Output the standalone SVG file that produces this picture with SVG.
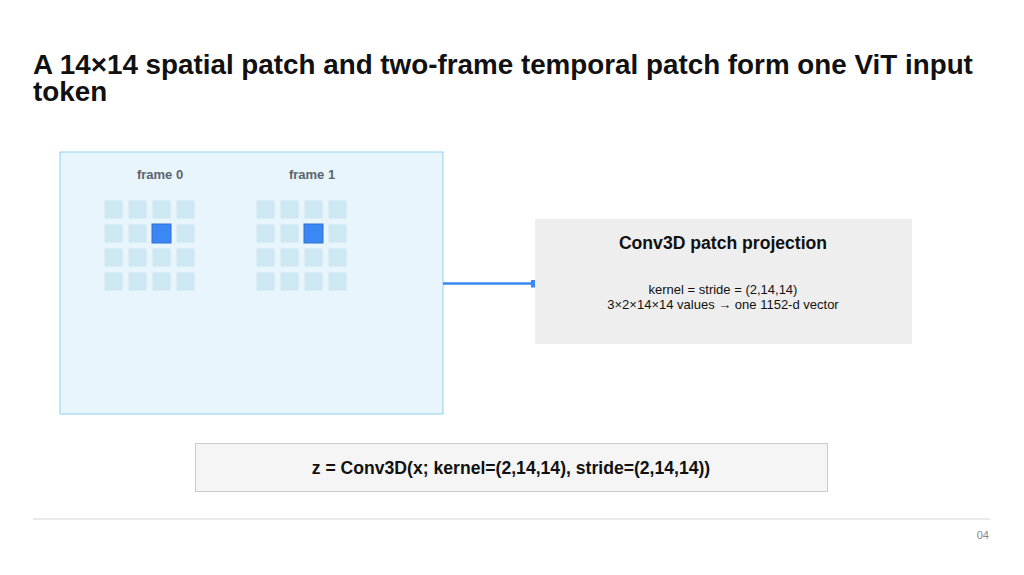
<svg xmlns="http://www.w3.org/2000/svg" width="1024" height="575" viewBox="0 0 1024 575">
<defs>
<style>
text{font-family:"Liberation Sans",Arial,sans-serif}
.title{font-size:27.8px;font-weight:bold;fill:#111}
.flabel{font-size:13px;font-weight:bold;fill:#5a6470;text-anchor:middle}
.cell{fill:#cde7f3;stroke:#e6f4fb;stroke-width:1}
.hot{fill:#3b87f5;stroke:#2f6fd0;stroke-width:1}
.h{font-size:17.6px;font-weight:bold;fill:#111;text-anchor:middle}
.b{font-size:13px;fill:#111;text-anchor:middle}
</style>
<marker id="end" markerWidth="4" markerHeight="8" refX="0" refY="4" orient="auto" markerUnits="userSpaceOnUse">
<rect x="0" y="0" width="4" height="8" fill="#3b87f5"/>
</marker>
</defs>
<rect width="1024" height="575" fill="#ffffff"/>
<text class="title" x="33" y="74">A 14×14 spatial patch and two-frame temporal patch form one ViT input</text>
<text class="title" x="33" y="101">token</text>

<g id="patch-input">
<rect x="60" y="152" width="383" height="262" fill="#e8f5fc" stroke="#90d2ea" stroke-width="1"/>
<text class="flabel" x="160" y="179">frame 0</text>
<text class="flabel" x="312" y="179">frame 1</text>
<g id="frame0">
<rect class="cell" x="104" y="200" width="19" height="19"/><rect class="cell" x="128" y="200" width="19" height="19"/><rect class="cell" x="152" y="200" width="19" height="19"/><rect class="cell" x="176" y="200" width="19" height="19"/>
<rect class="cell" x="104" y="224" width="19" height="19"/><rect class="cell" x="128" y="224" width="19" height="19"/><rect class="hot" x="152" y="224" width="19" height="19"/><rect class="cell" x="176" y="224" width="19" height="19"/>
<rect class="cell" x="104" y="248" width="19" height="19"/><rect class="cell" x="128" y="248" width="19" height="19"/><rect class="cell" x="152" y="248" width="19" height="19"/><rect class="cell" x="176" y="248" width="19" height="19"/>
<rect class="cell" x="104" y="272" width="19" height="19"/><rect class="cell" x="128" y="272" width="19" height="19"/><rect class="cell" x="152" y="272" width="19" height="19"/><rect class="cell" x="176" y="272" width="19" height="19"/>
</g>
<g id="frame1">
<rect class="cell" x="256" y="200" width="19" height="19"/><rect class="cell" x="280" y="200" width="19" height="19"/><rect class="cell" x="304" y="200" width="19" height="19"/><rect class="cell" x="328" y="200" width="19" height="19"/>
<rect class="cell" x="256" y="224" width="19" height="19"/><rect class="cell" x="280" y="224" width="19" height="19"/><rect class="hot" x="304" y="224" width="19" height="19"/><rect class="cell" x="328" y="224" width="19" height="19"/>
<rect class="cell" x="256" y="248" width="19" height="19"/><rect class="cell" x="280" y="248" width="19" height="19"/><rect class="cell" x="304" y="248" width="19" height="19"/><rect class="cell" x="328" y="248" width="19" height="19"/>
<rect class="cell" x="256" y="272" width="19" height="19"/><rect class="cell" x="280" y="272" width="19" height="19"/><rect class="cell" x="304" y="272" width="19" height="19"/><rect class="cell" x="328" y="272" width="19" height="19"/>
</g>
</g>

<g id="connectors">
<line x1="443" y1="283.5" x2="531" y2="283.5" stroke="#3b87f5" stroke-width="2.5" marker-end="url(#end)"/>
</g>

<g id="conv3d">
<rect x="535" y="219" width="377" height="125" fill="#eeeeee"/>
<text class="h" x="723" y="249">Conv3D patch projection</text>
<text class="b" x="723" y="294">kernel = stride = (2,14,14)</text>
<text class="b" x="723" y="309">3×2×14×14 values → one 1152-d vector</text>
</g>

<g id="formula">
<rect x="195.5" y="443.5" width="632" height="48" fill="#f5f5f5" stroke="#cccccc" stroke-width="1"/>
<text class="h" x="511" y="474">z = Conv3D(x; kernel=(2,14,14), stride=(2,14,14))</text>
</g>

<line x1="33" y1="519" x2="990" y2="519" stroke="#e3e3e3" stroke-width="1.5"/>
<text x="989" y="539" font-size="11" fill="#888" text-anchor="end">04</text>
</svg>
